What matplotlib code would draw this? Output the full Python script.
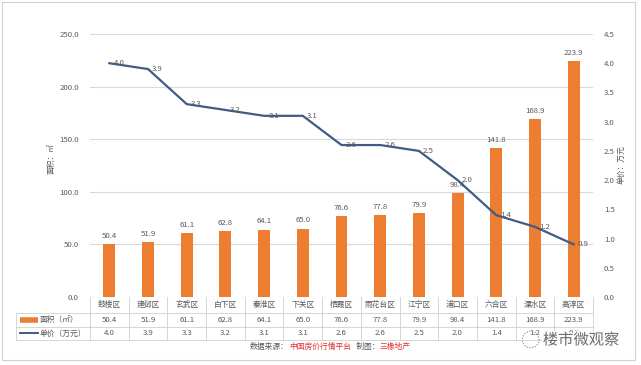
import matplotlib
matplotlib.use("Agg")
import matplotlib.pyplot as plt
from matplotlib.transforms import blended_transform_factory
from matplotlib.lines import Line2D
from matplotlib.patches import Rectangle
import matplotlib.patheffects as pe

plt.rcParams['font.family'] = ['Noto Sans CJK SC', 'DejaVu Sans']

districts = ['鼓楼区', '建邺区', '玄武区', '白下区', '秦淮区', '下关区', '栖霞区',
             '雨花台区', '江宁区', '浦口区', '六合区', '溧水区', '高淳区']
area = [50.4, 51.9, 61.1, 62.8, 64.1, 65.0, 76.6, 77.8, 79.9, 98.4, 141.8, 168.9, 223.9]
price = [4.0, 3.9, 3.3, 3.2, 3.1, 3.1, 2.6, 2.6, 2.5, 2.0, 1.4, 1.2, 0.9]
area_ticks = [0, 50, 100, 150, 200, 250]
price_ticks = [0, 0.5, 1.0, 1.5, 2.0, 2.5, 3.0, 3.5, 4.0, 4.5]

W, H = 641, 365
bar_c = '#ed7d31'
line_c = '#3f5b86'
grid_c = '#d9d9d9'
txt_c = '#595959'
fs = 5.6

fig = plt.figure(figsize=(W / 100, H / 100), dpi=100)
fig.patches.append(Rectangle((2 / W, 5 / H), 633 / W, 358 / H, transform=fig.transFigure,
                             fill=False, ec='#d0d0d0', lw=0.8))

# plot area in pixels: x 90..593, y 34..297
ax = fig.add_axes([90 / W, (H - 297) / H, 503 / W, 263 / H])
x = list(range(len(districts)))
ax.bar(x, area, width=0.31, color=bar_c, zorder=2)
ax.set_xlim(-0.5, len(districts) - 0.5)
ax.set_ylim(0, 250)
ax.set_yticks(area_ticks)
ax.set_yticklabels([f'{v:.1f}' for v in area_ticks])
ax.set_xticks([])
ax.grid(axis='y', color=grid_c, lw=0.8, zorder=0)
for s in ax.spines.values():
    s.set_visible(False)
ax.tick_params(axis='y', length=0, labelsize=fs, labelcolor=txt_c, pad=8)
for xi, v in zip(x, area):
    ax.annotate(f'{v:.1f}', (xi, v), xytext=(0, 3), textcoords='offset points',
                ha='center', va='bottom', fontsize=fs, color=txt_c)

ax2 = ax.twinx()
ax2.plot(x, price, color=line_c, lw=1.6, zorder=3)
ax2.set_ylim(0, 4.5)
ax2.set_yticks(price_ticks)
ax2.set_yticklabels([f'{v:.1f}' for v in price_ticks])
for s in ax2.spines.values():
    s.set_visible(False)
ax2.tick_params(axis='y', length=0, labelsize=fs, labelcolor=txt_c, pad=8)
for xi, v in zip(x, price):
    ax2.annotate(f'{v:.1f}', (xi, v), xytext=(3, 0), textcoords='offset points',
                 ha='left', va='center', fontsize=fs, color=txt_c)

fig.text(52 / W, 1 - 158 / H, '面积：㎡', rotation=90, ha='center', va='center',
         fontsize=fs, color=txt_c)
fig.text(621 / W, 1 - 165 / H, '单价：万元', rotation=90, ha='center', va='center',
         fontsize=fs, color=txt_c)

# data table under the chart
tr = blended_transform_factory(ax.transData, ax.transAxes)
def ya(py):
    return (297 - py) / 263
def xa(px):
    return (px - 90) / 503
tab_c = '#d0d0d0'
for b in range(len(districts) + 1):
    ax.add_line(Line2D([b - 0.5, b - 0.5], [0, ya(340)], transform=tr, color=tab_c,
                       lw=0.6, clip_on=False))
for py in [312.7, 326.7, 340]:
    ax.add_line(Line2D([xa(16), 1], [ya(py), ya(py)], transform=ax.transAxes, color=tab_c,
                       lw=0.6, clip_on=False))
ax.add_line(Line2D([xa(16), xa(16)], [ya(312.7), ya(340)], transform=ax.transAxes,
                   color=tab_c, lw=0.6, clip_on=False))
for xi, d, a, p in zip(x, districts, area, price):
    ax.text(xi, ya(305), d, transform=tr, ha='center', va='center', fontsize=fs, color=txt_c)
    ax.text(xi, ya(319.7), f'{a:.1f}', transform=tr, ha='center', va='center', fontsize=fs,
            color=txt_c)
    ax.text(xi, ya(333.4), f'{p:.1f}', transform=tr, ha='center', va='center', fontsize=fs,
            color=txt_c)
ax.add_line(Line2D([xa(20), xa(38)], [ya(319.7)] * 2, transform=ax.transAxes, color=bar_c,
                   lw=4, solid_capstyle='butt', clip_on=False))
ax.text(xa(40), ya(319.7), '面积（㎡）', transform=ax.transAxes, ha='left', va='center',
        fontsize=fs, color=txt_c)
ax.add_line(Line2D([xa(20), xa(38)], [ya(333.4)] * 2, transform=ax.transAxes, color=line_c,
                   lw=1.4, clip_on=False))
ax.text(xa(40), ya(333.4), '单价（万元）', transform=ax.transAxes, ha='left', va='center',
        fontsize=fs, color=txt_c)

# footer source line, pieces placed left to right by measured width
parts = [('数据来源：', txt_c), ('中国房价行情平台', '#e03030'), ('   制图：', txt_c),
         ('三橡地产', '#e03030')]
pieces = [fig.text(0, 1 - 349 / H, s, ha='left', va='baseline', fontsize=fs, color=c)
          for s, c in parts]
fig.canvas.draw()
r = fig.canvas.get_renderer()
xpos = 250
for t in pieces:
    t.set_x(xpos / W)
    xpos += t.get_window_extent(r).width

# watermark
fig.text(581 / W, 1 - 340 / H, '楼市微观察', ha='center', va='center', fontsize=11,
         color='#6a6a6a', path_effects=[pe.withStroke(linewidth=2, foreground='white')])
fig.text(530 / W, 1 - 341 / H, '◌', ha='center', va='center', fontsize=14, color='#9a9a9a')

fig.savefig('out.png', dpi=100)
